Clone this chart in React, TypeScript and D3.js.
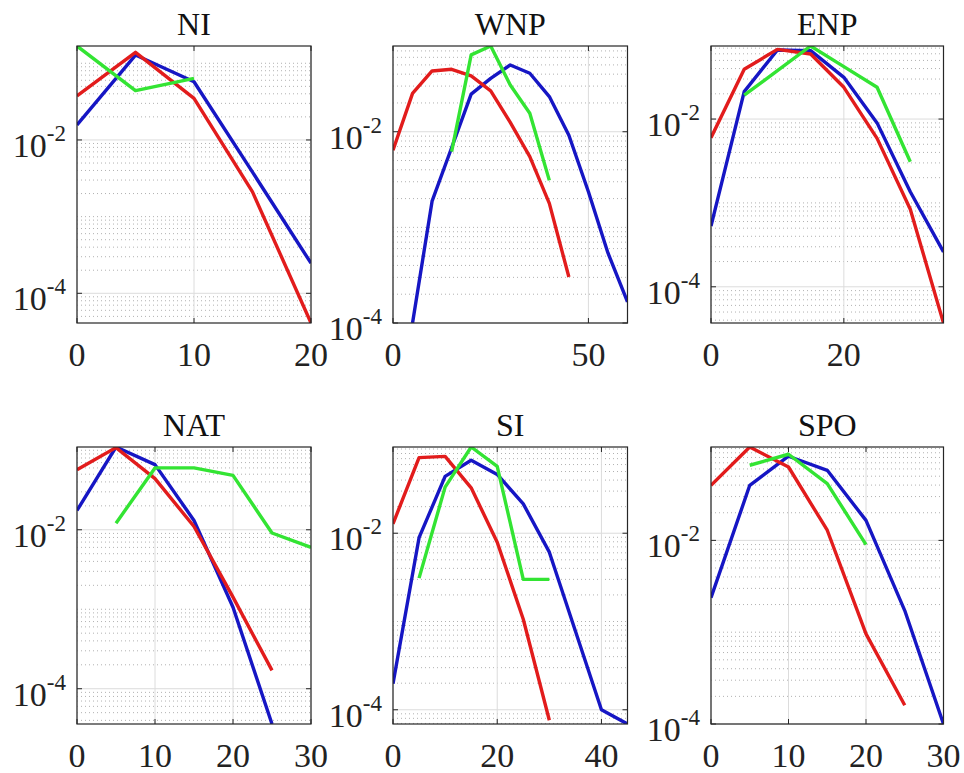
import React from "react";
import * as d3 from "d3";

// ---------- data ----------
const titles = ["NI", "WNP", "ENP", "NAT", "SI", "SPO"];

const niX = [0, 5, 10, 15, 20];
const niBlue = [0.0157, 0.128, 0.0575, 0.0038, 2.47e-4];
const niRed = [0.0375, 0.139, 0.0349, 0.0021, 4.1e-5];
const niGreenX = [0, 5, 10];
const niGreen = [0.168, 0.044, 0.0637];

const wnpBlueX = [5, 10, 15, 20, 25, 30, 35, 40, 45, 50, 55, 60];
const wnpBlue = [1.0e-4, 0.00188, 0.0068, 0.0247, 0.0362, 0.0499, 0.0409, 0.0233, 0.0092, 0.00236, 5.4e-4, 1.66e-4];
const wnpRedX = [0, 5, 10, 15, 20, 25, 30, 35, 40, 45];
const wnpRed = [0.0064, 0.0252, 0.0432, 0.045, 0.0383, 0.0268, 0.0125, 0.0055, 0.00178, 3.03e-4];
const wnpGreenX = [15, 20, 25, 30, 35, 40];
const wnpGreen = [0.0062, 0.0636, 0.0788, 0.0308, 0.0156, 0.0031];

const enpX = [0, 5, 10, 15, 20, 25, 30, 35];
const enpBlue = [5.3e-4, 0.0212, 0.0666, 0.0655, 0.0314, 0.009, 0.00136, 2.6e-4];
const enpRed = [0.006, 0.0392, 0.0678, 0.0597, 0.0239, 0.00588, 8.4e-4, 3.7e-5];
const enpGreenX = [5, 10, 15, 20, 25, 30];
const enpGreen = [0.0193, 0.0377, 0.0743, 0.0422, 0.0239, 0.0031];

const natX = [0, 5, 10, 15, 20, 25];
const natBlue = [0.0175, 0.11, 0.066, 0.0131, 0.00106, 3.6e-5];
const natRed = [0.057, 0.108, 0.044, 0.011, 0.00142, 1.7e-4];
const natGreenX = [5, 10, 15, 20, 25, 30];
const natGreen = [0.0121, 0.06, 0.06, 0.0484, 0.0091, 0.006];

const siBlueX = [0, 5, 10, 15, 20, 25, 30, 35, 40, 45];
const siBlue = [1.97e-4, 0.0089, 0.044, 0.067, 0.0464, 0.0215, 0.0061, 7.8e-4, 1.0e-4, 6.9e-5];
const siRedX = [0, 5, 10, 15, 20, 25, 30];
const siRed = [0.0128, 0.0718, 0.0743, 0.0327, 0.0079, 0.00106, 7.6e-5];
const siGreenX = [5, 10, 15, 20, 25, 30];
const siGreen = [0.0031, 0.0333, 0.0948, 0.0572, 0.003, 0.003];

const spoBlueX = [0, 5, 10, 15, 20, 25, 30];
const spoBlue = [0.00237, 0.0398, 0.0825, 0.058, 0.0165, 0.00172, 1.0e-4];
const spoRedX = [0, 5, 10, 15, 20, 25];
const spoRed = [0.0398, 0.104, 0.063, 0.0129, 9.6e-4, 1.6e-4];
const spoGreenX = [5, 10, 15, 20];
const spoGreen = [0.0658, 0.0867, 0.0415, 0.009];

const xDomains = [[0, 20], [0, 60], [0, 35], [0, 30], [0, 45], [0, 30]];
const xTicks = [[0, 10, 20], [0, 50], [0, 20], [0, 10, 20, 30], [0, 20, 40], [0, 10, 20, 30]];
const yTickExps = [-4, -2];

const seriesColors = ["#1616c4", "#e21c1c", "#33e433"]; // blue, red, green

const panelSeries = [
  [[niX, niBlue], [niX, niRed], [niGreenX, niGreen]],
  [[wnpBlueX, wnpBlue], [wnpRedX, wnpRed], [wnpGreenX, wnpGreen]],
  [[enpX, enpBlue], [enpX, enpRed], [enpGreenX, enpGreen]],
  [[natX, natBlue], [natX, natRed], [natGreenX, natGreen]],
  [[siBlueX, siBlue], [siRedX, siRed], [siGreenX, siGreen]],
  [[spoBlueX, spoBlue], [spoRedX, spoRed], [spoGreenX, spoGreen]],
];

// ---------- layout ----------
const W = 964;
const H = 773;
const colLeft = [77, 393, 711];
const colWidth = [234, 234.5, 232.5];
const rowTop = [46, 447];
const plotH = 277;
const FONT = "Liberation Serif, Times New Roman, serif";

function Panel({ idx }: { idx: number }) {
  const col = idx % 3;
  const row = Math.floor(idx / 3);
  const x0 = colLeft[col];
  const x1 = x0 + colWidth[col];
  const y0 = rowTop[row];
  const y1 = y0 + plotH;
  const series = panelSeries[idx];
  const allVals = series.flatMap((s) => s[1]);
  const [ymin, ymax] = d3.extent(allVals) as [number, number];
  const x = d3.scaleLinear().domain(xDomains[idx]).range([x0, x1]);
  const y = d3.scaleLog().domain([ymin, ymax]).range([y1, y0]);

  const minorVals: number[] = [];
  const majorVals = yTickExps.map((e) => Math.pow(10, e)).filter((v) => v >= ymin * 0.999 && v <= ymax);
  for (let e = Math.floor(Math.log10(ymin)); e <= Math.ceil(Math.log10(ymax)); e++) {
    for (let k = 1; k <= 9; k++) {
      const v = k * Math.pow(10, e);
      if (v < ymin || v > ymax) continue;
      if (k === 1 && yTickExps.includes(e)) continue;
      minorVals.push(v);
    }
  }
  const line = d3
    .line<[number, number]>()
    .x((d) => x(d[0]))
    .y((d) => y(d[1]));
  const clipId = `clip${idx}`;
  const cx = (x0 + x1) / 2;

  return (
    <g>
      <defs>
        <clipPath id={clipId}>
          <rect x={x0} y={y0} width={x1 - x0} height={y1 - y0} />
        </clipPath>
      </defs>
      <rect x={x0} y={y0} width={x1 - x0} height={y1 - y0} fill="#fff" />
      {minorVals.map((v, i) => (
        <line key={"mn" + i} x1={x0} x2={x1} y1={y(v)} y2={y(v)} stroke="#a8a8a8" strokeWidth={0.9} strokeDasharray="1 3" />
      ))}
      {majorVals.map((v, i) => (
        <line key={"mj" + i} x1={x0} x2={x1} y1={y(v)} y2={y(v)} stroke="#dcdcdc" strokeWidth={1} />
      ))}
      {xTicks[idx].map((t, i) => (
        <line key={"xg" + i} x1={x(t)} x2={x(t)} y1={y0} y2={y1} stroke="#dcdcdc" strokeWidth={1} />
      ))}
      <g clipPath={`url(#${clipId})`}>
        {series.map((s, i) => {
          const pts = s[0].map((xv, j) => [xv, s[1][j]] as [number, number]);
          return (
            <path key={"s" + i} d={line(pts) || ""} fill="none" stroke={seriesColors[i]} strokeWidth={3.4} strokeLinejoin="round" />
          );
        })}
      </g>
      {majorVals.map((v, i) => (
        <g key={"yt" + i}>
          <line x1={x0} x2={x0 + 5} y1={y(v)} y2={y(v)} stroke="#262626" />
          <line x1={x1} x2={x1 - 5} y1={y(v)} y2={y(v)} stroke="#262626" />
        </g>
      ))}
      {xTicks[idx].map((t, i) => (
        <g key={"xt" + i}>
          <line x1={x(t)} x2={x(t)} y1={y1} y2={y1 - 5} stroke="#262626" />
          <line x1={x(t)} x2={x(t)} y1={y0} y2={y0 + 5} stroke="#262626" />
        </g>
      ))}
      <rect x={x0} y={y0} width={x1 - x0} height={y1 - y0} fill="none" stroke="#262626" strokeWidth={1.2} />
      {yTickExps
        .filter((e) => Math.pow(10, e) >= ymin * 0.999 && Math.pow(10, e) <= ymax)
        .map((e, i) => (
          <text key={"yl" + i} x={x0 - 11} y={y(Math.pow(10, e)) + 17} textAnchor="end" fontFamily={FONT} fontSize={34} fill="#222">
            10
            <tspan fontSize={23} dy={-16}>
              {String(e)}
            </tspan>
          </text>
        ))}
      {xTicks[idx].map((t, i) => (
        <text key={"xl" + i} x={x(t)} y={y1 + 43} textAnchor="middle" fontFamily={FONT} fontSize={34} fill="#222">
          {t}
        </text>
      ))}
      <text x={cx} y={y0 - 11} textAnchor="middle" fontFamily={FONT} fontSize={32} fill="#111">
        {titles[idx]}
      </text>
    </g>
  );
}

export default function App() {
  return (
    <svg width={W} height={H} style={{ position: "absolute", left: 0, top: 0, background: "#fff" }}>
      <rect width={W} height={H} fill="#fff" />
      {titles.map((_, i) => (
        <Panel key={i} idx={i} />
      ))}
    </svg>
  );
}
